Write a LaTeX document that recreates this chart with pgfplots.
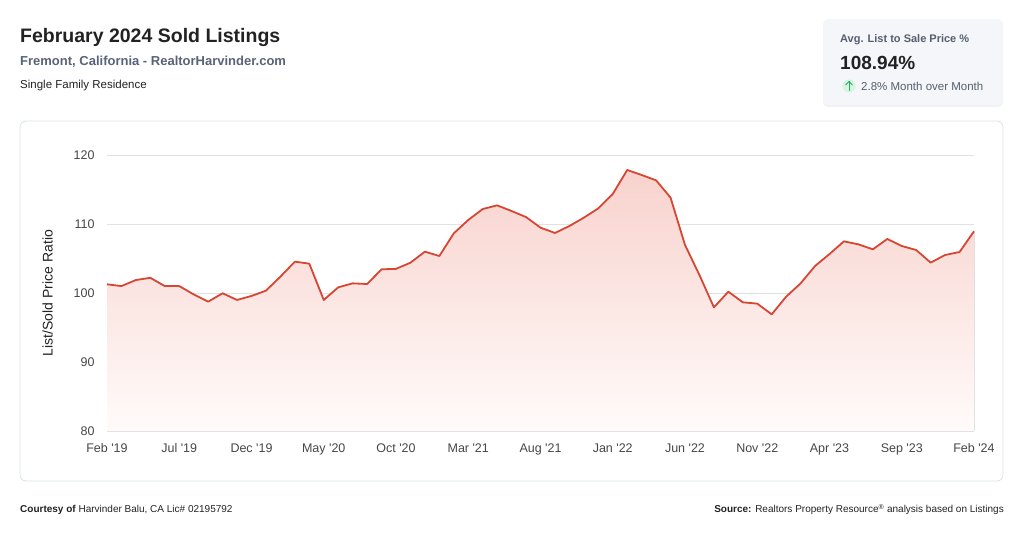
\documentclass[border=0pt]{standalone}
\usepackage{fontspec}
\setmainfont{Liberation Sans}[Ligatures=TeXOff]
\usepackage{pgfplots}
\pgfplotsset{compat=1.18}
\usepgfplotslibrary{fillbetween}
\usetikzlibrary{shadows}
\definecolor{linered}{RGB}{214,70,50}
\definecolor{filltop}{RGB}{248,210,205}
\definecolor{fillbot}{RGB}{255,251,250}
\definecolor{titlegray}{RGB}{34,34,34}
\definecolor{subblue}{RGB}{88,99,120}
\definecolor{gridgray}{RGB}{226,226,226}
\definecolor{panelborder}{RGB}{214,226,226}
\definecolor{cardfill}{RGB}{244,246,249}
\definecolor{ticktext}{RGB}{70,70,70}
\definecolor{cardtext}{RGB}{85,95,112}
\definecolor{arrowgreen}{RGB}{40,170,100}
\definecolor{arrowbg}{RGB}{214,244,224}

\pgfplotstableread{
m v
0 101.26
1 101.0
2 101.88
3 102.2
4 101.0
5 101.0
6 99.8
7 98.74
8 99.96
9 98.99
10 99.57
11 100.34
12 102.37
13 104.54
14 104.25
15 98.99
16 100.82
17 101.4
18 101.3
19 103.43
20 103.5
21 104.39
22 105.99
23 105.36
24 108.65
25 110.58
26 112.17
27 112.7
28 111.88
29 111.0
30 109.47
31 108.7
32 109.71
33 110.92
34 112.27
35 114.35
36 117.83
37 117.1
38 116.33
39 113.82
40 106.96
41 102.6
42 97.92
43 100.19
44 98.65
45 98.46
46 96.91
47 99.47
48 101.4
49 103.91
50 105.65
51 107.49
52 107.05
53 106.33
54 107.83
55 106.81
56 106.23
57 104.4
58 105.51
59 105.94
60 108.94
}\ratio

\begin{document}
\begin{tikzpicture}[x=1pt,y=1pt]
% canvas (bounding box only; page is white)
\path (0,0) rectangle (1024,537);

% header
\node[anchor=base west, inner sep=0, text=titlegray] at (20,494)
  {\fontsize{19.5}{23}\selectfont\bfseries February 2024 Sold Listings};
\node[anchor=base west, inner sep=0, text=subblue] at (20,471)
  {\fontsize{13}{16}\selectfont\bfseries Fremont, California - RealtorHarvinder.com};
\node[anchor=base west, inner sep=0, text=titlegray] at (20,448)
  {\fontsize{11.5}{14}\selectfont Single Family Residence};

% card
\fill[cardfill, rounded corners=5pt, drop shadow={opacity=0.10, shadow xshift=0pt, shadow yshift=-2pt}]
  (823,432) rectangle (1003,518);
\node[anchor=base west, inner sep=0, text=cardtext] at (840,494)
  {\fontsize{11}{13}\selectfont\bfseries Avg. List to Sale Price \%};
\node[anchor=base west, inner sep=0, text=titlegray] at (840,467)
  {\fontsize{19}{22}\selectfont\bfseries 108.94\%};
\fill[arrowbg] (849,451) circle (6.5);
\draw[arrowgreen, line width=1pt, line cap=round, line join=round] (849,446.5) -- (849,455.5);
\draw[arrowgreen, line width=1pt, line cap=round, line join=round] (845.8,452.3) -- (849,455.5) -- (852.2,452.3);
\node[anchor=base west, inner sep=0, text=cardtext] at (861,446)
  {\fontsize{11.5}{14}\selectfont 2.8\% Month over Month};

% panel border only
\draw[panelborder, rounded corners=6pt, line width=0.8pt] (20,56) rectangle (1003,416);

% y label
\node[rotate=90, text=titlegray] at (47.5,244)
  {\fontsize{14}{16}\selectfont List/Sold Price Ratio};

\begin{axis}[
  at={(107pt,106pt)}, anchor=south west,
  scale only axis, width=867pt, height=276pt,
  xmin=0, xmax=60, ymin=80, ymax=120,
  axis line style={draw=none},
  major tick length=0pt,
  ytick={80,90,100,110,120},
  ymajorgrids, grid style={gridgray, line width=0.8pt},
  xtick={0,5,...,60},
  xticklabels={{Feb '19},{Jul '19},{Dec '19},{May '20},{Oct '20},{Mar '21},{Aug '21},{Jan '22},{Jun '22},{Nov '22},{Apr '23},{Sep '23},{Feb '24}},
  /pgf/number format/assume math mode=true,
  tick label style={font=\fontsize{12.5}{14}\selectfont, text=ticktext},
  yticklabel style={xshift=-9pt},
  xticklabel style={yshift=-9pt},
  clip=false,
]
\addplot[name path=A, draw=none] table[x=m, y=v] {\ratio};
\path[name path=B] (axis cs:0,80) -- (axis cs:60,80);
\addplot[top color=filltop, bottom color=fillbot, draw=none] fill between[of=A and B];
\addplot[draw=linered, line width=1.8pt, line join=round] table[x=m, y=v] {\ratio};
\end{axis}

% footer
\node[anchor=base west, inner sep=0, text=titlegray] at (20,24)
  {\fontsize{10}{12}\selectfont\textbf{Courtesy of} Harvinder Balu, CA Lic\# 02195792};
\node[anchor=base east, inner sep=0, text=titlegray] at (1004,24)
  {\fontsize{10}{12}\selectfont\textbf{Source:} Realtors Property Resource\textsuperscript{®} analysis based on Listings};
\end{tikzpicture}
\end{document}
